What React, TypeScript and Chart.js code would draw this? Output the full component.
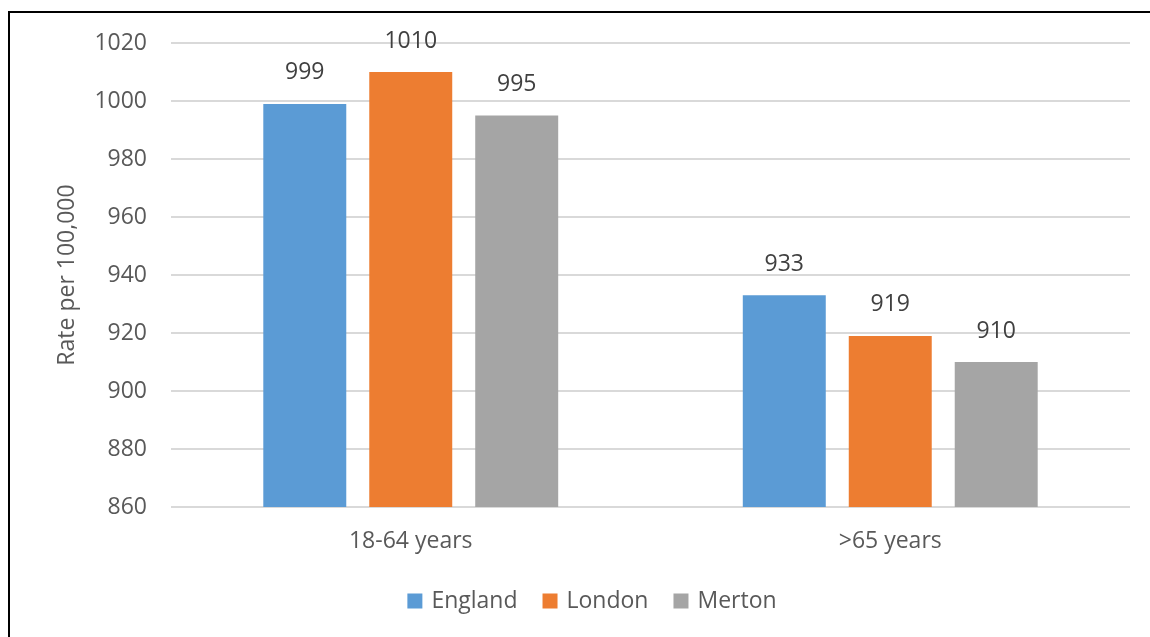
import React, { useEffect, useRef } from "react";
import { Chart, registerables } from "chart.js";

Chart.register(...registerables);

const categories = ["18-64 years", ">65 years"];
const seriesNames = ["England", "London", "Merton"];
const englandValues = [999, 933];
const londonValues = [1010, 919];
const mertonValues = [995, 910];
const seriesColors = ["#5B9BD5", "#ED7D31", "#A5A5A5"];
const yMin = 860;
const yMax = 1020;
const yStep = 20;
const yTitle = "Rate per 100,000";

const FONT = "'Open Sans', 'DejaVu Sans', sans-serif";
const FS = 23;

const valueLabels = {
  id: "valueLabels",
  afterDatasetsDraw(chart: any) {
    const ctx = chart.ctx;
    ctx.save();
    ctx.font = `${FS}px ${FONT}`;
    ctx.fillStyle = "#404040";
    ctx.textAlign = "center";
    ctx.textBaseline = "middle";
    chart.data.datasets.forEach((ds: any, i: number) => {
      const meta = chart.getDatasetMeta(i);
      meta.data.forEach((bar: any, j: number) => {
        ctx.fillText(String(ds.data[j]), bar.x, bar.y - 31);
      });
    });
    ctx.restore();
  },
};

const customLegend = {
  id: "customLegend",
  afterDraw(chart: any) {
    const ctx = chart.ctx;
    ctx.save();
    ctx.font = `${FS}px ${FONT}`;
    ctx.textBaseline = "middle";
    ctx.textAlign = "left";
    const box = 15;
    const gap = 9;
    const spacing = 25;
    const items = chart.data.datasets.map((ds: any) => ({
      label: ds.label,
      color: ds.backgroundColor,
      w: ctx.measureText(ds.label).width,
    }));
    const total =
      items.reduce((s: number, it: any) => s + box + gap + it.w, 0) + spacing * (items.length - 1);
    const cx = chart.width / 2 + 12;
    const cy = 588;
    let x = cx - total / 2;
    items.forEach((it: any) => {
      ctx.fillStyle = it.color;
      ctx.fillRect(x, cy - box / 2, box, box);
      x += box + gap;
      ctx.fillStyle = "#595959";
      ctx.fillText(it.label, x, cy);
      x += it.w + spacing;
    });
    ctx.restore();
  },
};

export default function App() {
  const ref = useRef<HTMLCanvasElement>(null);
  useEffect(() => {
    const values = [englandValues, londonValues, mertonValues];
    const chart = new Chart(ref.current!, {
      type: "bar",
      data: {
        labels: categories,
        datasets: seriesNames.map((name, i) => ({
          label: name,
          data: values[i],
          backgroundColor: seriesColors[i],
          categoryPercentage: 0.663,
          barPercentage: 0.783,
        })),
      },
      options: {
        responsive: false,
        animation: false,
        maintainAspectRatio: false,
        layout: { padding: { left: 0, right: 20, top: 30, bottom: 68 } },
        plugins: {
          tooltip: { enabled: false },
          legend: { display: false },
        },
        scales: {
          x: {
            grid: { display: false, drawTicks: false },
            border: { display: false },
            ticks: { font: { family: FONT, size: FS }, color: "#595959", padding: 21 },
            afterFit(scale: any) {
              scale.height = 62;
              scale.paddingLeft = 0;
              scale.paddingRight = 0;
            },
          },
          y: {
            min: yMin,
            max: yMax,
            ticks: {
              stepSize: yStep,
              font: { family: FONT, size: FS },
              color: "#595959",
              padding: 24,
              callback: (v: any) => String(v),
            },
            grid: { color: "#D9D9D9", lineWidth: 2, drawTicks: false },
            border: { display: false },
            title: {
              display: true,
              text: yTitle,
              font: { family: FONT, size: FS },
              color: "#595959",
              padding: { top: 44, bottom: 0 },
            },
            afterFit(scale: any) {
              scale.width = 161;
              scale.paddingTop = 0;
              scale.paddingBottom = 0;
            },
          },
        },
      },
      plugins: [valueLabels, customLegend],
    });
    return () => chart.destroy();
  }, []);
  return (
    <div style={{ position: "fixed", left: 0, top: 0, width: 1150, height: 637, background: "#fff", overflow: "hidden" }}>
      <style>{"body{margin:0;overflow:hidden;}"}</style>
      <div
        style={{
          position: "absolute",
          left: 8,
          top: 11,
          width: 1150,
          height: 640,
          borderLeft: "2.5px solid #000",
          borderTop: "2px solid #000",
        }}
      />
      <canvas ref={ref} width={1140} height={624} style={{ position: "absolute", left: 10, top: 13 }} />
    </div>
  );
}
